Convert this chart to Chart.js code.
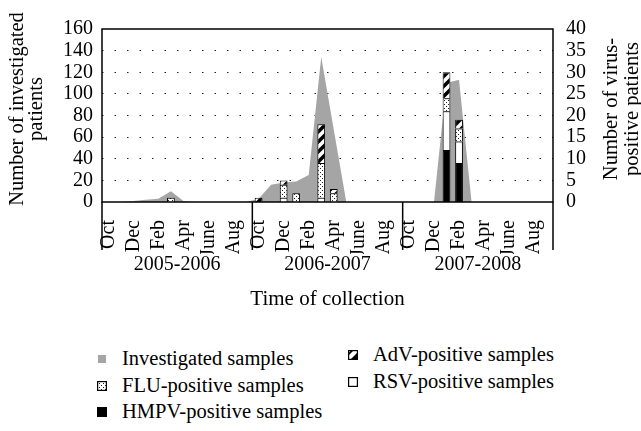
<!DOCTYPE html>
<html>
<head>
<meta charset="utf-8">
<script src="https://cdn.jsdelivr.net/npm/chart.js@4.4.0/dist/chart.umd.min.js"></script>
<style>
body{margin:0;background:#fff;}
#wrap{position:relative;width:641px;height:431px;font-family:'Liberation Serif',serif;color:#000;}
#mycanvas{position:absolute;left:0;top:0;}
.lg{position:absolute;font-size:20.5px;line-height:22px;white-space:nowrap;}
.lg canvas{position:absolute;}
</style>
</head>
<body>
<div id="wrap">
<canvas id="mycanvas" width="641" height="312"></canvas>
<div id="legend"></div>
</div>
<script>
// months Oct 2005 .. Sep 2008
var months = ['Oct','Nov','Dec','Jan','Feb','Mar','Apr','May','June','July','Aug','Sep',
              'Oct','Nov','Dec','Jan','Feb','Mar','Apr','May','June','July','Aug','Sep',
              'Oct','Nov','Dec','Jan','Feb','Mar','Apr','May','June','July','Aug','Sep'];
var seasons = ['2005-2006','2006-2007','2007-2008'];

// left axis: investigated patients
var investigated = [0,0,1,2,3,10,1,0,0,0,0,0,
                    3,16,18,19,25,134,67,0,0,0,0,0,
                    0,0,0,110,113,0,0,0,0,0,0,0];

// right axis: virus-positive patients (stacked)
var hmpv = [null,null,null,null,null,null,null,null,null,null,null,null,
            null,null,null,null,null,null,null,null,null,null,null,null,
            null,null,null,12,9,null,null,null,null,null,null,null];
var rsv  = [null,null,null,null,null,null,null,null,null,null,null,null,
            null,null,1,null,null,1,null,null,null,null,null,null,
            null,null,null,9,5,null,null,null,null,null,null,null];
var flu  = [null,null,null,null,null,1,null,null,null,null,null,null,
            null,null,3,2,null,8,2,null,null,null,null,null,
            null,null,null,3,3,null,null,null,null,null,null,null];
var adv  = [null,null,null,null,null,null,null,null,null,null,null,null,
            1,null,1,null,null,9,1,null,null,null,null,null,
            null,null,null,6,2,null,null,null,null,null,null,null];

var fnt = 'Liberation Serif';

function makePattern(kind){
	var c = document.createElement('canvas');
	var g = c.getContext('2d');
	if(kind === 'dots'){
		c.width = 4; c.height = 4;
		g.fillStyle = '#fff'; g.fillRect(0,0,4,4);
		g.fillStyle = '#222'; g.fillRect(0,0,1,1); g.fillRect(2,2,1,1);
	} else {
		c.width = 10; c.height = 10;
		g.fillStyle = '#fff'; g.fillRect(0,0,10,10);
		g.strokeStyle = '#000'; g.lineWidth = 3.5;
		g.beginPath();
		g.moveTo(-5,5); g.lineTo(5,-5);
		g.moveTo(0,10); g.lineTo(10,0);
		g.moveTo(5,15); g.lineTo(15,5);
		g.stroke();
	}
	return g.createPattern(c,'repeat');
}
var dotFill = makePattern('dots');
var hatchFill = makePattern('hatch');

function drawRotated(c, lines, x, y, gap){
	c.save();
	c.translate(x, y);
	c.rotate(-Math.PI/2);
	for(var i in lines){
		c.fillText(lines[i], 0, i*gap);
	}
	c.restore();
}

var frame = {
	id: 'frame',
	afterDraw: function(chart){
		var c = chart.ctx, a = chart.chartArea, xs = chart.scales.x;
		var half = (xs.getPixelForValue(1) - xs.getPixelForValue(0))/2;
		c.save();
		c.strokeStyle = '#000';
		c.lineWidth = 1.5;
		c.strokeRect(a.left, a.top, a.right - a.left, a.bottom - a.top);
		c.beginPath();
		for(var i = 0; i <= months.length; i += 12){
			var px = i < months.length ? xs.getPixelForValue(i) - half : xs.getPixelForValue(i-1) + half;
			c.moveTo(px, a.bottom);
			c.lineTo(px, a.bottom + 48);
		}
		c.stroke();
		c.fillStyle = '#000';
		c.font = '20.5px "' + fnt + '"';
		c.textAlign = 'center';
		c.textBaseline = 'middle';
		drawRotated(c, ['Number of investigated','patients'], 18, 109, 19);
		drawRotated(c, ['Number of virus-','positive patients'], 612, 109, 21);
		c.restore();
	}
};

var ctx = document.getElementById('mycanvas');
var barStyle = {yAxisID:'y1', borderColor:'#000', borderWidth:1, barPercentage:0.62, categoryPercentage:1, order:1};

var chart = new Chart(ctx, {
	type: 'bar',
	data: {
		labels: months,
		datasets: [
			{type:'line', label:'Investigated samples', data:investigated, yAxisID:'y',
			 backgroundColor:'#a5a5a5', borderWidth:0, pointRadius:0, fill:'origin', tension:0, order:2},
			Object.assign({label:'HMPV-positive samples', data:hmpv, backgroundColor:'#000'}, barStyle),
			Object.assign({label:'RSV-positive samples', data:rsv, backgroundColor:'#fff'}, barStyle),
			Object.assign({label:'FLU-positive samples', data:flu, backgroundColor:dotFill}, barStyle),
			Object.assign({label:'AdV-positive samples', data:adv, backgroundColor:hatchFill}, barStyle)
		]
	},
	options: {
		responsive: false,
		animation: false,
		layout: {padding: {top: 29, left: 0, right: 0, bottom: 0}},
		plugins: {legend: {display:false}, tooltip: {enabled:false}},
		scales: {
			x: {
				type:'category', offset:true, stacked:true,
				grid:{display:false}, border:{display:false},
				ticks:{autoSkip:false, maxRotation:90, minRotation:90, padding:10, color:'#000',
					font:{family:fnt, size:20},
					callback:function(v, i){ return i % 2 === 0 ? this.getLabelForValue(v) : ''; }},
				afterFit:function(s){ s.height = 52; }
			},
			x2: {
				type:'category', labels:seasons, offset:true, position:'bottom',
				grid:{display:false}, border:{display:false},
				ticks:{padding:-9, color:'#000', font:{family:fnt, size:20}},
				title:{display:true, text:'Time of collection', color:'#000', font:{family:fnt, size:21}, padding:0},
				afterFit:function(s){ s.height = 58; }
			},
			y: {
				position:'left', min:0, max:160,
				ticks:{stepSize:20, autoSkip:false, padding:9, color:'#000', font:{family:fnt, size:20}},
				grid:{drawTicks:false, lineWidth:1,
					color:function(c){ return (c.tick && (c.tick.value === 0 || c.tick.value === 160)) ? 'rgba(0,0,0,0)' : '#222'; }},
				border:{display:false, dash:[1.5, 11]},
				afterFit:function(s){ s.width = 102; }
			},
			y1: {
				position:'right', min:0, max:40, stacked:true,
				ticks:{stepSize:5, autoSkip:false, padding:13, color:'#000', font:{family:fnt, size:20}},
				grid:{display:false, drawTicks:false}, border:{display:false},
				afterFit:function(s){ s.width = 88; }
			}
		}
	},
	plugins: [frame]
});

// legend (two columns, as in the figure)
var legendItems = [
	{text:'Investigated samples', kind:'grey', x:97, y:359},
	{text:'FLU-positive samples', kind:'dots', x:97, y:386},
	{text:'HMPV-positive samples', kind:'black', x:97, y:412},
	{text:'AdV-positive samples', kind:'hatch', x:348, y:355},
	{text:'RSV-positive samples', kind:'white', x:348, y:382}
];
var lg = document.getElementById('legend');
legendItems.forEach(function(it){
	var icon = document.createElement('canvas');
	icon.width = 10; icon.height = 10;
	icon.style.left = it.x + 'px';
	icon.style.top = (it.y - 5) + 'px';
	var g = icon.getContext('2d');
	if(it.kind === 'grey'){ g.fillStyle = '#a5a5a5'; g.fillRect(1,1,8,8); }
	else if(it.kind === 'black'){ g.fillStyle = '#000'; g.fillRect(0,0,10,10); }
	else {
		g.fillStyle = it.kind === 'dots' ? dotFill : '#fff';
		g.fillRect(0,0,10,10);
		if(it.kind === 'hatch'){
			g.fillStyle = '#000';
			g.beginPath(); g.moveTo(2,10); g.lineTo(10,2); g.lineTo(10,10); g.closePath(); g.fill();
			g.beginPath(); g.moveTo(0,6); g.lineTo(6,0); g.lineTo(3.5,0); g.lineTo(0,3.5); g.closePath(); g.fill();
		}
		g.strokeStyle = '#000'; g.lineWidth = 1.2; g.strokeRect(0.6,0.6,8.8,8.8);
	}
	var d = document.createElement('div');
	d.className = 'lg';
	d.style.left = '0px'; d.style.top = '0px';
	d.appendChild(icon);
	var t = document.createElement('div');
	t.className = 'lg';
	t.style.left = (it.x + 25) + 'px';
	t.style.top = (it.y - 12) + 'px';
	t.textContent = it.text;
	lg.appendChild(d);
	lg.appendChild(t);
});
</script>
</body>
</html>
